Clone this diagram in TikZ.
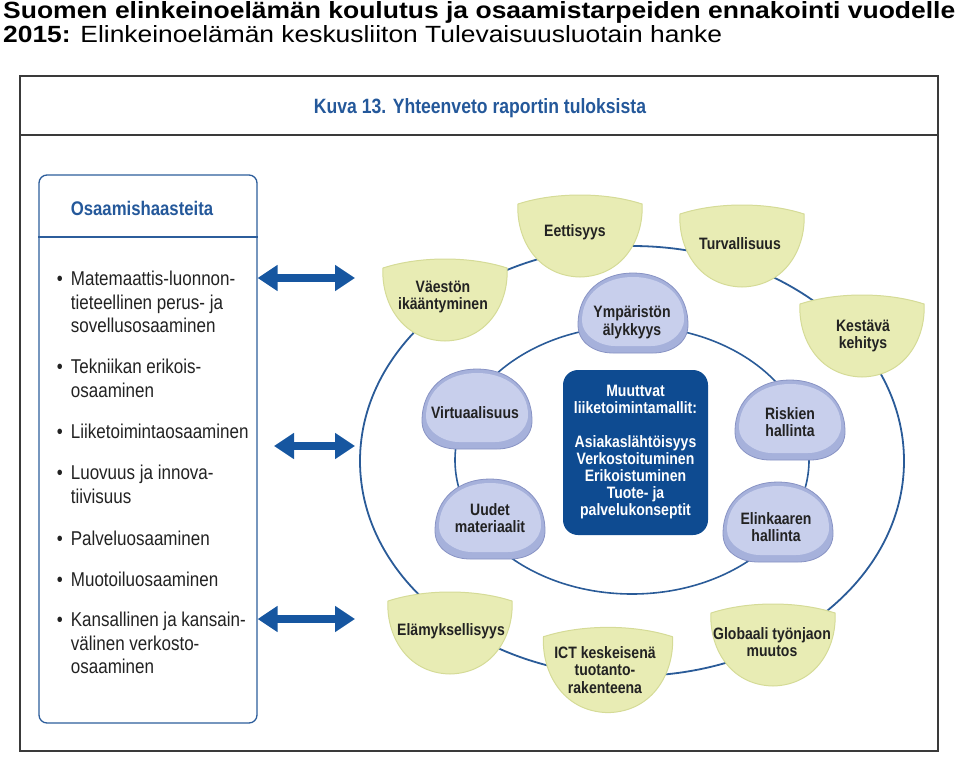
\documentclass[tikz,border=0pt]{standalone}
\usepackage{graphicx}
\usepackage{fontspec}
\setmainfont{Liberation Sans}[FakeStretch=0.85]
\newfontfamily\titlefont{Liberation Sans}
\usetikzlibrary{positioning,arrows.meta,shapes.geometric}

\definecolor{framegray}{HTML}{3A3A3A}
\definecolor{capblue}{HTML}{24589A}
\definecolor{boxblue}{HTML}{2C5D9B}
\definecolor{arrowblue}{HTML}{1656A0}
\definecolor{ringblue}{HTML}{2A5B98}
\definecolor{coreblue}{HTML}{0E4B91}
\definecolor{bowlfill}{HTML}{E8ECB4}
\definecolor{bowledge}{HTML}{D5DB97}
\definecolor{domerim}{HTML}{A6B1DB}
\definecolor{domefill}{HTML}{C8CFEC}
\definecolor{domeedge}{HTML}{8893C4}
\definecolor{inkgray}{HTML}{222222}

\begin{document}
\begin{tikzpicture}[
    x=1pt, y=-1pt,
    ring/.style={draw=ringblue, ellipse, line width=1.8pt, inner sep=0pt},
    trend/.style={align=center, text=inkgray, font=\fontsize{16.5}{17.5}\selectfont\bfseries},
    skill/.style={anchor=base west, inner sep=0pt, align=left, text=inkgray, font=\fontsize{20}{23.5}\selectfont},
    twoway/.style={<->, >={Triangle[length=20pt,width=25pt]}, line width=8pt, draw=arrowblue},
    core/.style={fill=coreblue, rounded corners=15pt, minimum width=145pt, minimum height=165pt, align=center, text=white, font=\fontsize{16.5}{17}\selectfont\bfseries},
    bowl/.pic={
        \filldraw[fill=bowlfill, draw=bowledge, line width=1pt] (-62,-32) .. controls (-25,-44) and (25,-44) .. (62,-32)
            .. controls (64,0) and (45,40) .. (0,41) .. controls (-45,40) and (-64,0) .. cycle;
    },
    dome/.pic={
        \filldraw[fill=domerim, draw=domeedge, line width=0.8pt] (-55,12) .. controls (-55,-22) and (-30,-40) .. (0,-40)
            .. controls (30,-40) and (55,-22) .. (55,12) .. controls (55,30) and (38,40) .. (20,40) -- (-20,40)
            .. controls (-38,40) and (-55,30) .. cycle;
        \fill[domefill] (-51,8) .. controls (-51,-20) and (-28,-36) .. (0,-36) .. controls (28,-36) and (51,-20) .. (51,6)
            .. controls (51,22) and (34,33) .. (18,33) -- (-18,33) .. controls (-34,33) and (-51,22) .. cycle;
    }
]
\useasboundingbox (0,0) rectangle (960,762);

% title lines
\node[anchor=base west, inner sep=0pt] (head1) at (3,18.5) {\resizebox{952pt}{17pt}{\titlefont\bfseries Suomen elinkeinoelämän koulutus ja osaamistarpeiden ennakointi vuodelle}};
\node[anchor=base west, inner sep=0pt] (head2) at (3,42.5) {\resizebox{719pt}{17pt}{\titlefont\textbf{2015:} Elinkeinoelämän keskusliiton Tulevaisuusluotain hanke}};

% frame
\draw[framegray, line width=1.6pt] (20,76) rectangle (938,751);
\draw[framegray, line width=1.6pt] (20,135) -- (938,135);
\node[anchor=base, text=capblue, font=\fontsize{20.7}{24}\selectfont\bfseries] (caption) at (480,114) {Kuva 13. Yhteenveto raportin tuloksista};

% left panel (base = last line)
\node[draw=boxblue, line width=1.3pt, rounded corners=8pt, minimum width=218pt, minimum height=548pt] (skills) at (148,449) {};
\coordinate (sep) at (0,237);
\draw[boxblue, line width=1.3pt] (skills.west |- sep) -- (skills.east |- sep);
\node[anchor=base, text=capblue, font=\fontsize{19.7}{22}\selectfont\bfseries] (skillhead) at (142,215) {Osaamishaasteita};

\node[skill] (s1) at (70.7,332.5) {\llap{\textbullet\hspace{8pt}}Matemaattis-luonnon-\\tieteellinen perus- ja\\sovellusosaaminen};
\node[skill] (s2) at (70.7,397) {\llap{\textbullet\hspace{8pt}}Tekniikan erikois-\\osaaminen};
\node[skill] (s3) at (70.7,438) {\llap{\textbullet\hspace{8pt}}Liiketoimintaosaaminen};
\node[skill] (s4) at (70.7,503) {\llap{\textbullet\hspace{8pt}}Luovuus ja innova-\\tiivisuus};
\node[skill] (s5) at (70.7,545) {\llap{\textbullet\hspace{8pt}}Palveluosaaminen};
\node[skill] (s6) at (70.7,586) {\llap{\textbullet\hspace{8pt}}Muotoiluosaaminen};
\node[skill] (s7) at (70.7,673.5) {\llap{\textbullet\hspace{8pt}}Kansallinen ja kansain-\\välinen verkosto-\\osaaminen};

% rings
\node[ring, minimum width=544pt, minimum height=430pt] (outer) at (632,461) {};
\node[ring, line width=1.6pt, minimum width=354pt, minimum height=268pt] (inner) at (632,460) {};

% arrows
\coordinate (b1) at (355,278);
\coordinate (a2) at (274,446);
\coordinate (b2) at (355,446);
\coordinate (b3) at (355,619);
\draw[twoway] (skills.east |- b1) -- (b1);
\draw[twoway] (a2) -- (b2);
\draw[twoway] (skills.east |- b3) -- (b3);

% centre
\node[core] (core) at (635.5,452.5) {Muuttvat\\liiketoimintamallit:\\[17pt]Asiakaslähtöisyys\\Verkostoituminen\\Erikoistuminen\\Tuote- ja\\palvelukonseptit};

% inner ring
\pic at (633,313) {dome};
\node[trend] (smart) at (632,322) {Ympäristön\\älykkyys};
\pic at (477,409) {dome};
\node[trend] (virtual) at (475,413) {Virtuaalisuus};
\pic at (490,519) {dome};
\node[trend] (material) at (490,518) {Uudet\\materiaalit};
\pic at (790,420) {dome};
\node[trend] (risk) at (790,422) {Riskien\\hallinta};
\pic at (778,522) {dome};
\node[trend] (lifecycle) at (776,527) {Elinkaaren\\hallinta};

% outer ring
\pic at (580,236) {bowl};
\node[trend] (ethics) at (575,232) {Eettisyys};
\pic at (742,246) {bowl};
\node[trend] (safety) at (740,244) {Turvallisuus};
\pic at (445,300) {bowl};
\node[trend] (ageing) at (443,297) {Väestön\\ikääntyminen};
\pic at (862,336) {bowl};
\node[trend] (sustain) at (863,336) {Kestävä\\kehitys};
\pic at (450,633) {bowl};
\node[trend] (experience) at (451,631) {Elämyksellisyys};
\pic[scale=1.04] at (608,670) {bowl};
\node[trend] (ict) at (605,670) {ICT keskeisenä\\tuotanto-\\rakenteena};
\pic at (773,645) {bowl};
\node[trend] (global) at (772,642) {Globaali työnjaon\\muutos};
\end{tikzpicture}
\end{document}
